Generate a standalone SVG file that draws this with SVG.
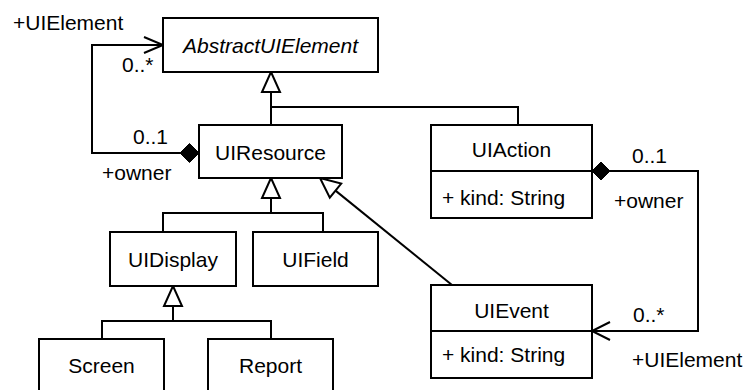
<svg xmlns="http://www.w3.org/2000/svg" width="745" height="390" viewBox="0 0 745 390">
<style>
.box{fill:#fff;stroke:#000;stroke-width:2}
.ln{fill:none;stroke:#000;stroke-width:2}
.tri{fill:#fff;stroke:#000;stroke-width:2;stroke-linejoin:miter}
.dia{fill:#000;stroke:#000;stroke-width:1}
text{font-family:"Liberation Sans",Arial,sans-serif;font-size:21px;fill:#000}
.c{text-anchor:middle}
.i{font-style:italic}
</style>
<rect width="745" height="390" fill="#fff"/>
<g id="connectors">
<path class="ln" d="M271,92 V125 M271,107 H518 V125"/>
<polygon class="tri" points="271,72 262,92 280,92"/>
<path class="ln" d="M271,198 V213 M163,232 V213 H323 V232"/>
<polygon class="tri" points="271,178 262,198 280,198"/>
<path class="ln" d="M173,306 V321 M102,339 V321 H271 V339"/>
<polygon class="tri" points="173,286 164,306 182,306"/>
<path class="ln" d="M452,285 L335.5,190.6"/>
<polygon class="tri" points="320,178 341.2,183.6 329.8,197.6"/>
<path class="ln" d="M180,153 H92 V45 H163 M144,37 L163,45 L144,53"/>
<polygon class="dia" points="199,153 189.5,143.5 180,153 189.5,162.5"/>
<path class="ln" d="M610,171 H698 V331 H592 M610,322 L592,331 L610,340"/>
<polygon class="dia" points="592,171 601,162 610,171 601,180"/>
<text x="13" y="30">+UIElement</text>
<text x="122" y="72">0..*</text>
<text x="133" y="144">0..1</text>
<text x="102" y="180">+owner</text>
<text x="632" y="163">0..1</text>
<text x="614" y="208">+owner</text>
<text x="633" y="322">0..*</text>
<text x="632" y="367">+UIElement</text>
</g>
<g id="AbstractUIElement">
<rect class="box" x="163" y="18" width="215" height="54"/>
<text class="c i" x="270.5" y="53">AbstractUIElement</text>
</g>
<g id="UIResource">
<rect class="box" x="199" y="125" width="143" height="53"/>
<text class="c" x="270.5" y="160">UIResource</text>
</g>
<g id="UIAction">
<rect class="box" x="431" y="125" width="161" height="93"/>
<line class="ln" x1="431" y1="171" x2="592" y2="171"/>
<text class="c" x="511.5" y="157">UIAction</text>
<text x="442" y="205">+ kind: String</text>
</g>
<g id="UIDisplay">
<rect class="box" x="110" y="232" width="126" height="54"/>
<text class="c" x="173" y="267">UIDisplay</text>
</g>
<g id="UIField">
<rect class="box" x="253" y="232" width="125" height="54"/>
<text class="c" x="315.5" y="267">UIField</text>
</g>
<g id="UIEvent">
<rect class="box" x="431" y="285" width="161" height="93"/>
<line class="ln" x1="431" y1="331" x2="592" y2="331"/>
<text class="c" x="511.5" y="318">UIEvent</text>
<text x="442" y="362">+ kind: String</text>
</g>
<g id="Screen">
<rect class="box" x="39" y="339" width="125" height="60"/>
<text class="c" x="101.5" y="373">Screen</text>
</g>
<g id="Report">
<rect class="box" x="208" y="339" width="125" height="60"/>
<text class="c" x="270.5" y="373">Report</text>
</g>
</svg>
